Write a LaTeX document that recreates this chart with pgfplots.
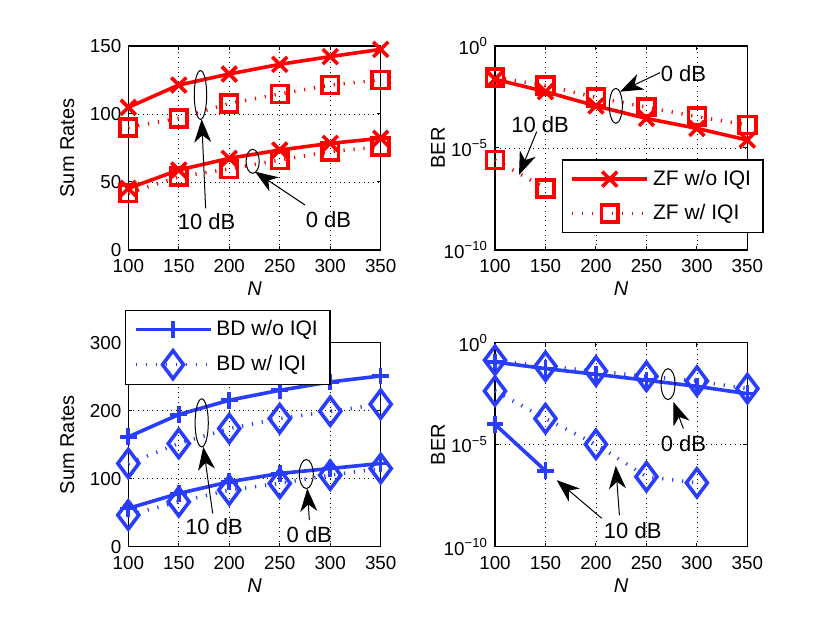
\documentclass[border=0pt]{standalone}
\usepackage{pgfplots}
\pgfplotsset{compat=1.18}
\usepackage{fontspec}
\setmainfont{Liberation Sans}
\usetikzlibrary{arrows.meta}
\definecolor{myred}{rgb}{1,0,0}
\definecolor{myblue}{RGB}{40,62,252}
\tikzset{
  ann/.style={black, line width=0.5pt},
  arr/.style={black, line width=0.5pt, -{Stealth[length=11.5pt,width=8.5pt,inset=3.5pt]}},
  lab/.style={font=\fontsize{11}{13}\selectfont, anchor=center, inner sep=0pt},
}
\pgfplotsset{
  base/.style={
    scale only axis, width=126.2pt, height=102pt, anchor=south west,
    xmin=100, xmax=350, xtick={100,150,200,250,300,350},
    clip=false,
    grid=major, major grid style={dotted, black, line width=0.35pt},
    tick align=inside, major tick length=2pt, minor tick length=0pt,
    axis line style={line width=0.7pt},
    every tick/.style={black, line width=0.5pt},
    tick label style={font=\fontsize{9.4}{10}\selectfont},
    xticklabel style={yshift=-1.2pt},
    label style={font=\fontsize{10}{12}\selectfont},
    /pgf/number format/assume math mode=true,
    xlabel={\textit{N}},
    xlabel style={at={(axis description cs:0.5,-0.191)},anchor=center},
    legend cell align=left,
    legend image code/.code={\draw[mark repeat=2,mark phase=2,##1] plot coordinates {(0pt,0pt) (18.75pt,0pt) (37.5pt,0pt)};},
    legend style={font=\fontsize{10.5}{12}\selectfont, draw=black, line width=0.7pt, fill=white,
      inner xsep=4pt, inner ysep=3pt, row sep=4pt,
      /tikz/every even column/.append style={column sep=1pt}},
  },
  bersty/.style={ymin=1e-10, ymax=1, ytick={1e-10,1e-5,1},
    yticklabels={10\textsuperscript{−10},10\textsuperscript{−5},10\textsuperscript{0}},
    yminorticks=false, ylabel={BER},
    ylabel style={at={(axis description cs:-0.226,0.5)},anchor=center}},
  ZFwo/.style={myred, line width=1.8pt, mark=x, mark size=5.3pt, mark options={solid}},
  ZFw/.style={myred, line width=1.8pt, dash pattern=on 0.6pt off 4.4pt, mark=square, mark size=4.2pt, mark options={solid}},
  BDwo/.style={myblue, line width=1.8pt, mark=+, mark size=4.2pt, mark options={solid}},
  BDw/.style={myblue, line width=1.8pt, dash pattern=on 0.6pt off 4.4pt, mark=diamond, mark size=7pt, mark options={solid}},
}
\begin{document}
\begin{tikzpicture}
\useasboundingbox (0,0) rectangle (415pt,312.5pt);
% top-left
\begin{axis}[base, at={(64.15pt,187.5pt)}, ymin=0, ymax=150, ytick={0,50,100,150},
  ylabel={Sum Rates}, ylabel style={at={(axis description cs:-0.2417,0.5)},anchor=center}]
\addplot[ZFwo] coordinates {(100,104.9) (150,121.3) (200,129.4) (250,136.5) (300,142.2) (350,147.5)};
\addplot[ZFw] coordinates {(100,90.2) (150,96.8) (200,107.8) (250,114.7) (300,121.3) (350,125)};
\addplot[ZFwo] coordinates {(100,45.3) (150,58.8) (200,67.4) (250,73.5) (300,78.4) (350,82.1)};
\addplot[ZFw] coordinates {(100,41.7) (150,53.9) (200,59.6) (250,66.2) (300,72.3) (350,76)};
\draw[ann] (axis cs:171.5,114) ellipse [x radius=3.1pt, y radius=12.2pt];
\draw[arr] (axis cs:176.6,30.6) -- (axis cs:172.7,96.1);
\node[lab] at (axis cs:177.6,20.8) {10 dB};
\draw[ann] (axis cs:223.2,65.2) ellipse [x radius=3.3pt, y radius=6pt];
\draw[arr] (axis cs:275,33.1) -- (axis cs:225.5,57.6);
\node[lab] at (axis cs:298.2,22.5) {0 dB};
\end{axis}
% top-right
\begin{axis}[ymode=log, base, bersty, at={(247.5pt,187.5pt)},
  legend style={at={(0.2644,0.4446)}, anchor=north west}]
\addplot[ZFwo] coordinates {(100,0.02344) (150,0.005754) (200,0.001148) (250,2.818e-4) (300,9.12e-5) (350,2.455e-5)};
\addlegendentry{ZF w/o IQI}
\addplot[ZFw] coordinates {(100,0.02884) (150,0.01148) (200,0.003020) (250,0.001) (300,3.467e-4) (350,1.349e-4)};
\addlegendentry{ZF w/ IQI}
\addplot[ZFw, forget plot] coordinates {(100,2.570e-6) (150,1.047e-7)};
\draw[ann] (axis cs:219.7,1.167e-3) ellipse [x radius=3.25pt, y radius=8.75pt];
\draw[arr] (axis cs:263.5,0.04932) -- (axis cs:223.8,5.768e-3);
\node[lab] at (axis cs:286.6,0.04571) {0 dB};
\node[lab] at (axis cs:144.6,1.340e-4) {10 dB};
\draw[arr] (axis cs:141.3,6.31e-5) -- (axis cs:123.8,4.786e-7);
\end{axis}
% bottom-left
\begin{axis}[base, at={(64.15pt,39.15pt)}, ymin=0, ymax=300, ytick={0,100,200,300},
  ylabel={Sum Rates}, ylabel style={at={(axis description cs:-0.2417,0.5)},anchor=center},
  legend style={at={(-0.013,1.1614)}, anchor=north west}]
\addplot[BDwo] coordinates {(100,161.5) (150,194.3) (200,215.4) (250,230) (300,242.3) (350,251.1)};
\addlegendentry{BD w/o IQI}
\addplot[BDw] coordinates {(100,122.4) (150,151.7) (200,173.8) (250,188.4) (300,199.2) (350,209.5)};
\addlegendentry{BD w/ IQI}
\addplot[BDwo, forget plot] coordinates {(100,56.3) (150,78.3) (200,95.4) (250,107.7) (300,115) (350,122.4)};
\addplot[BDw, forget plot] coordinates {(100,46.5) (150,66) (200,83.2) (250,93) (300,105.2) (350,115)};
\draw[ann] (axis cs:172.7,182.1) ellipse [x radius=3.3pt, y radius=12pt];
\draw[arr] (axis cs:183.6,48.9) -- (axis cs:174.3,146.8);
\node[lab] at (axis cs:184.9,29.4) {10 dB};
\draw[ann] (axis cs:276.3,106.9) ellipse [x radius=3.5pt, y radius=7.25pt];
\draw[arr] (axis cs:279.3,39.2) -- (axis cs:277.3,85.6);
\node[lab] at (axis cs:279.3,17.1) {0 dB};
\end{axis}
% bottom-right
\begin{axis}[ymode=log, base, bersty, at={(247.5pt,39.15pt)}]
\addplot[BDwo] coordinates {(100,0.1122) (150,0.05370) (200,0.02818) (250,0.01445) (300,0.007244) (350,0.003162)};
\addplot[BDw] coordinates {(100,0.1380) (150,0.06918) (200,0.04074) (250,0.02239) (300,0.01318) (350,0.005623)};
\addplot[BDwo] coordinates {(100,1e-4) (150,5.248e-7)};
\addplot[BDw] coordinates {(100,0.004266) (150,1.905e-4) (200,1.047e-5) (250,2.692e-7) (300,1.349e-7)};
\draw[ann] (axis cs:271.4,9.311e-3) ellipse [x radius=3.5pt, y radius=7.75pt];
\draw[arr] (axis cs:286.6,6.18e-5) -- (axis cs:276.7,1.247e-3);
\node[lab] at (axis cs:286.6,1.148e-5) {0 dB};
\node[lab] at (axis cs:236.4,6.067e-10) {10 dB};
\draw[arr] (axis cs:205.7,2.455e-9) -- (axis cs:161.1,1.832e-7);
\draw[arr] (axis cs:223.2,3.548e-9) -- (axis cs:219.6,9.204e-7);
\end{axis}
\end{tikzpicture}
\end{document}
